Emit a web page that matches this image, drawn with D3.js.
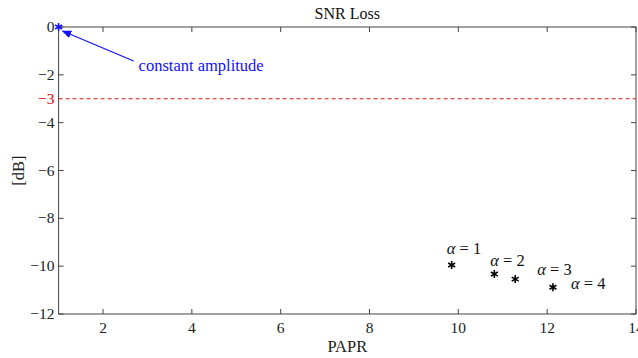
<!DOCTYPE html>
<html><head><meta charset="utf-8">
<script src="https://cdn.jsdelivr.net/npm/d3@7"></script>
<style>body{margin:0;background:#fff}svg{display:block}text{font-family:"Liberation Serif","DejaVu Serif",serif}</style>
</head><body><svg id="c" width="638" height="358"></svg>
<script>
const xTicks = [2,4,6,8,10,12,14];
const yTicks = [0,-2,-4,-6,-8,-10,-12];
const refLevel = -3;
const constPoint = {x:1, y:0, label:"constant amplitude"};
const alphaX = [9.85, 10.81, 11.28, 12.13];
const alphaY = [-9.95, -10.33, -10.54, -10.88];
const alphaLabels = ["1","2","3","4"];

const svg = d3.select("#c");
const L=58.6, R=636, T=27, B=314;
const x = d3.scaleLinear().domain([1,14]).range([L,R]);
const y = d3.scaleLinear().domain([-12,0]).range([B,T]);
const axisCol = "#444";
const tl = 5;

// box
svg.append("rect").attr("x",L).attr("y",T).attr("width",R-L).attr("height",B-T)
  .attr("fill","none").attr("stroke",axisCol).attr("stroke-width",1);

// x ticks
xTicks.forEach(v=>{
  svg.append("line").attr("x1",x(v)).attr("x2",x(v)).attr("y1",B).attr("y2",B-tl).attr("stroke",axisCol);
  svg.append("line").attr("x1",x(v)).attr("x2",x(v)).attr("y1",T).attr("y2",T+tl).attr("stroke",axisCol);
  svg.append("text").attr("x",x(v)).attr("y",B+19).attr("text-anchor","middle").attr("font-size",15.5).attr("fill","#222").text(v);
});
// y ticks
const fmt = v => v<0 ? "\u2212"+Math.abs(v) : String(v);
yTicks.forEach(v=>{
  svg.append("line").attr("x1",L).attr("x2",L+tl).attr("y1",y(v)).attr("y2",y(v)).attr("stroke",axisCol);
  svg.append("line").attr("x1",R).attr("x2",R-tl).attr("y1",y(v)).attr("y2",y(v)).attr("stroke",axisCol);
  svg.append("text").attr("x",L-4).attr("y",y(v)+5).attr("text-anchor","end").attr("font-size",15.5).attr("fill","#222").text(fmt(v));
});
// reference line
svg.append("line").attr("x1",L).attr("x2",R).attr("y1",y(refLevel)).attr("y2",y(refLevel))
  .attr("stroke","#d81818").attr("stroke-width",1).attr("stroke-dasharray","4,3");
svg.append("text").attr("x",L-4).attr("y",y(refLevel)+5).attr("text-anchor","end").attr("font-size",15.5).attr("fill","#e00000").text(fmt(refLevel));

// title & labels
svg.append("text").attr("x",(L+R)/2).attr("y",19).attr("text-anchor","middle").attr("font-size",16).attr("fill","#111").text("SNR Loss");
svg.append("text").attr("x",(L+R)/2).attr("y",352).attr("text-anchor","middle").attr("font-size",16.5).attr("fill","#222").text("PAPR");
svg.append("text").attr("transform",`translate(24,${(T+B)/2}) rotate(-90)`).attr("text-anchor","middle").attr("font-size",16.5).attr("fill","#222").text("[dB]");

// markers
const star = d3.symbol().type(d3.symbolAsterisk).size(45);
svg.append("path").attr("d",star()).attr("transform",`translate(${x(constPoint.x)},${y(constPoint.y)})`)
  .attr("stroke","#1010ff").attr("stroke-width",1.6).attr("fill","none");
alphaX.forEach((v,i)=>{
  svg.append("path").attr("d",star()).attr("transform",`translate(${x(v)},${y(alphaY[i])})`)
    .attr("stroke","#000").attr("stroke-width",1.6).attr("fill","none");
});
// alpha labels
const lblOff = [[-5,-11],[-4,-8],[22,-4],[18,2]];
alphaX.forEach((v,i)=>{
  const t = svg.append("text").attr("x",x(v)+lblOff[i][0]).attr("y",y(alphaY[i])+lblOff[i][1]).attr("font-size",16.5).attr("fill","#111");
  t.append("tspan").attr("font-style","italic").text("\u03b1");
  t.append("tspan").text(" = "+alphaLabels[i]);
});

// arrow annotation
const defs = svg.append("defs");
defs.append("marker").attr("id","ah").attr("viewBox","0 0 10 10").attr("refX",9).attr("refY",5)
  .attr("markerWidth",8).attr("markerHeight",8).attr("orient","auto-start-reverse")
  .append("path").attr("d","M0,1 L10,5 L0,9 z").attr("fill","#1010ff");
svg.append("line").attr("x1",x(constPoint.x)+75).attr("y1",y(constPoint.y)+34)
  .attr("x2",x(constPoint.x)+4).attr("y2",y(constPoint.y)+4)
  .attr("stroke","#1010ff").attr("stroke-width",1.2).attr("marker-end","url(#ah)");
svg.append("text").attr("x",x(constPoint.x)+80).attr("y",y(constPoint.y)+44).attr("font-size",16.5).attr("fill","#1010ff").text(constPoint.label);
</script></body></html>
